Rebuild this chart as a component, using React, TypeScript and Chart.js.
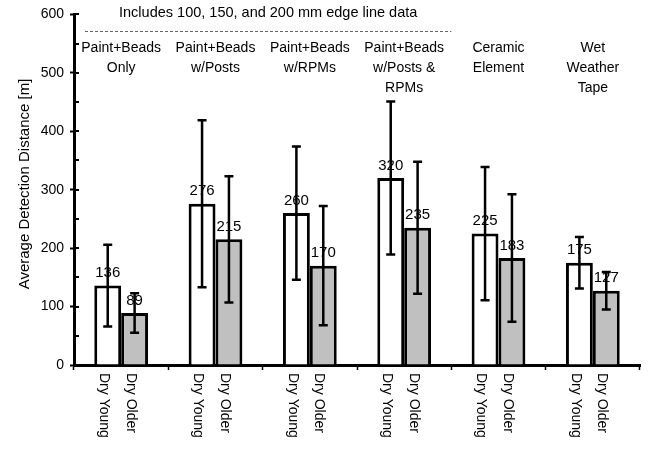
import React, { useEffect, useRef } from 'react';
import { Chart, registerables } from 'chart.js';

Chart.register(...registerables);

const categories = [
  ['Paint+Beads', 'Only'],
  ['Paint+Beads', 'w/Posts'],
  ['Paint+Beads', 'w/RPMs'],
  ['Paint+Beads', 'w/Posts &', 'RPMs'],
  ['Ceramic', 'Element'],
  ['Wet', 'Weather', 'Tape'],
];
const seriesNames = ['Dry Young', 'Dry Older'];
const youngValues = [136, 276, 260, 320, 225, 175];
const olderValues = [89, 215, 170, 235, 183, 127];
const youngErrors = [70, 143, 114, 131, 114, 44];
const olderErrors = [34, 108, 102, 113, 109, 32];
const headerNote = 'Includes 100, 150, and 200 mm edge line data';
const yTitle = 'Average Detection Distance [m]';
const noteSpanCategories = 4;

const FONT = '"Liberation Sans", Arial, Helvetica, sans-serif';

const overlayPlugin = {
  id: 'overlay',
  afterDraw(chart: any) {
    const ctx = chart.ctx;
    const xs = chart.scales.x;
    const ys = chart.scales.y;
    const errs = [youngErrors, olderErrors];
    ctx.save();

    // inner y ticks (every 50)
    ctx.strokeStyle = '#000';
    ctx.lineWidth = 2;
    ys.ticks.forEach((t: any) => {
      const py = Math.round(ys.getPixelForValue(t.value));
      ctx.beginPath();
      ctx.moveTo(ys.right, py);
      ctx.lineTo(ys.right + 5, py);
      ctx.stroke();
    });

    // y title
    ctx.fillStyle = '#000';
    ctx.save();
    ctx.translate(25, 184);
    ctx.rotate(-Math.PI / 2);
    ctx.font = `15px ${FONT}`;
    ctx.textAlign = 'center';
    ctx.textBaseline = 'middle';
    ctx.fillText(yTitle, 0, 0);
    ctx.restore();

    // value labels
    ctx.font = `15px ${FONT}`;
    ctx.textAlign = 'center';
    ctx.textBaseline = 'bottom';
    chart.data.datasets.forEach((ds: any, di: number) => {
      const meta = chart.getDatasetMeta(di);
      meta.data.forEach((bar: any, i: number) => {
        ctx.fillText(String(ds.data[i]), bar.x, bar.y - 5);
      });
    });

    // error bars
    ctx.strokeStyle = '#000';
    ctx.lineWidth = 2.5;
    chart.data.datasets.forEach((ds: any, di: number) => {
      const meta = chart.getDatasetMeta(di);
      meta.data.forEach((bar: any, i: number) => {
        const v = ds.data[i];
        const e = errs[di][i];
        const cx = bar.x;
        const yt = ys.getPixelForValue(v + e);
        const yb = ys.getPixelForValue(v - e);
        ctx.beginPath();
        ctx.moveTo(cx, yt);
        ctx.lineTo(cx, yb);
        ctx.moveTo(cx - 4.5, yt);
        ctx.lineTo(cx + 4.5, yt);
        ctx.moveTo(cx - 4.5, yb);
        ctx.lineTo(cx + 4.5, yb);
        ctx.stroke();
      });
    });

    // rotated series labels under each bar
    ctx.font = `14px ${FONT}`;
    ctx.textAlign = 'left';
    ctx.textBaseline = 'middle';
    chart.data.datasets.forEach((ds: any, di: number) => {
      const meta = chart.getDatasetMeta(di);
      meta.data.forEach((bar: any) => {
        ctx.save();
        ctx.translate(bar.x - 4, xs.top + 8);
        ctx.rotate(Math.PI / 2);
        ctx.fillText(seriesNames[di], 0, 0);
        ctx.restore();
      });
    });

    // category titles
    ctx.textAlign = 'center';
    categories.forEach((lines, i) => {
      const cx = xs.getPixelForValue(i);
      lines.forEach((ln, li) => {
        ctx.fillText(ln, cx, 48 + li * 20);
      });
    });

    // header note and dashed line
    const lx0 = xs.left + 11;
    const lx1 = xs.getPixelForValue(noteSpanCategories - 0.5);
    ctx.font = `14.5px ${FONT}`;
    ctx.fillText(headerNote, (lx0 + lx1) / 2, 13);
    ctx.strokeStyle = '#666';
    ctx.lineWidth = 1;
    ctx.setLineDash([3, 2]);
    ctx.beginPath();
    ctx.moveTo(lx0, 31.5);
    ctx.lineTo(lx1, 31.5);
    ctx.stroke();
    ctx.restore();
  },
};

export default function App() {
  const ref = useRef<HTMLCanvasElement | null>(null);
  useEffect(() => {
    document.body.style.margin = '0';
    const canvas = ref.current;
    if (!canvas) return;
    const chart = new Chart(canvas, {
      type: 'bar',
      data: {
        labels: categories.map((c) => c.join(' ')),
        datasets: [
          {
            label: seriesNames[0],
            data: youngValues,
            backgroundColor: '#ffffff',
            borderColor: '#000000',
            borderWidth: 3,
            categoryPercentage: 0.57,
            barPercentage: 1,
          },
          {
            label: seriesNames[1],
            data: olderValues,
            backgroundColor: '#c0c0c0',
            borderColor: '#000000',
            borderWidth: 3,
            categoryPercentage: 0.57,
            barPercentage: 1,
          },
        ],
      },
      options: {
        animation: false,
        responsive: true,
        maintainAspectRatio: false,
        layout: { padding: { top: 13, right: 16, bottom: 0, left: 0 } },
        plugins: {
          legend: { display: false },
          tooltip: { enabled: false },
        },
        scales: {
          x: {
            type: 'category',
            offset: true,
            grid: {
              offset: true,
              drawOnChartArea: false,
              drawTicks: true,
              tickLength: 5,
              tickWidth: 1.5,
              tickColor: '#000',
            },
            border: { color: '#000', width: 3 },
            ticks: { display: false },
            afterFit: (s: any) => {
              s.height = 84;
            },
          },
          y: {
            min: 0,
            max: 600,
            ticks: {
              stepSize: 50,
              callback: (v: any) => (Number(v) % 100 === 0 ? String(v) : ''),
              color: '#000',
              font: { family: FONT, size: 14 },
              padding: 6,
            },
            grid: {
              drawOnChartArea: false,
              tickLength: 4,
              tickColor: (c: any) =>
                c.tick && Number(c.tick.value) % 100 === 0 ? '#000' : 'rgba(0,0,0,0)',
              tickWidth: 2,
            },
            border: { color: '#000', width: 3 },
            title: { display: false },
            afterFit: (s: any) => {
              s.width = 74;
            },
          },
        },
      } as any,
      plugins: [overlayPlugin],
    });
    return () => chart.destroy();
  }, []);
  return (
    <div style={{ position: 'relative', width: 656, height: 449 }}>
      <canvas ref={ref} />
    </div>
  );
}
